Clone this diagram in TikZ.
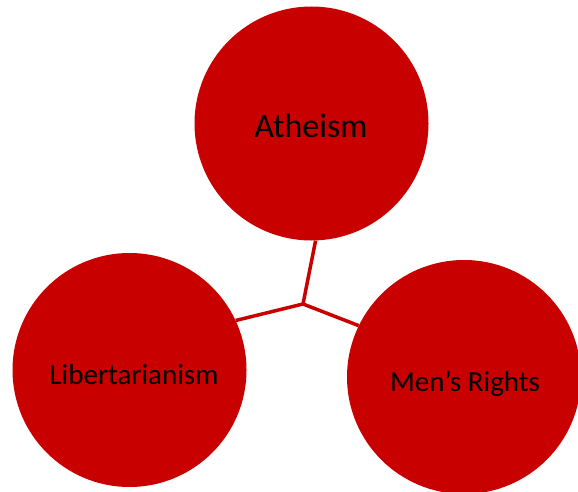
\documentclass[tikz,border=0pt]{standalone}
\usepackage{fontspec}
\setmainfont{Carlito}
\definecolor{circred}{RGB}{200,0,0}
\begin{document}
\begin{tikzpicture}[x=1pt,y=-1pt,
  bubble/.style={circle,fill=circred,minimum size=234pt,inner sep=0pt},
  label/.style={text=black},
  link/.style={draw=circred,line width=3.5pt}]
\useasboundingbox (0,0) rectangle (578,492);
\node[bubble] (ath) at (311.5,123.5) {};
\node[bubble] (lib) at (129.5,370) {};
\node[bubble] (men) at (464,377) {};
\node[label,font=\fontsize{34}{40}\selectfont] (athT) at (311,126) {Atheism};
\node[label,font=\fontsize{29}{34}\selectfont] (libT) at (134,375) {Libertarianism};
\node[label,font=\fontsize{29}{34}\selectfont] (menT) at (465,384) {Men’s Rights};
\coordinate (hub) at (303,304);
\draw[link] (hub) -- (ath.-88);
\draw[link] (hub) -- (lib.25);
\draw[link] (hub) -- (men.154);
\end{tikzpicture}
\end{document}
